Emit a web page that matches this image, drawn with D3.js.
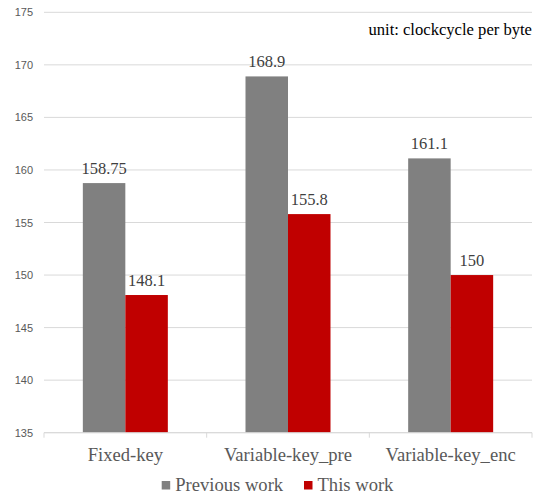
<!DOCTYPE html>
<html><head><meta charset="utf-8">
<script src="https://cdn.jsdelivr.net/npm/d3@7"></script>
<style>body{margin:0;background:#fff}svg{display:block}</style>
</head><body><svg id="c" width="542" height="497"></svg>
<script>
const categories = ["Fixed-key", "Variable-key_pre", "Variable-key_enc"];
const seriesNames = ["Previous work", "This work"];
const previousWork = [158.75, 168.9, 161.1];
const thisWork = [148.1, 155.8, 150];
const yTicks = [135, 140, 145, 150, 155, 160, 165, 170, 175];
const colors = ["#808080", "#C00000"];

(function () {
const svg = d3.select("#c");
const font = "'Liberation Serif', 'Times New Roman', serif";
const sans = "'Liberation Sans', Arial, sans-serif";
const pLeft = 44, pRight = 532, pTop = 12.3, pBottom = 432.7;
const y = d3.scaleLinear().domain([135, 175]).range([pBottom, pTop]);
const x = d3.scaleBand().domain(categories).range([pLeft, pRight]);
const inner = d3.scaleBand().domain(seriesNames).range([0, 85]);

// gridlines
svg.append("g").selectAll("line").data(yTicks).join("line")
  .attr("x1", pLeft).attr("x2", pRight)
  .attr("y1", d => y(d)).attr("y2", d => y(d))
  .attr("stroke", "#d9d9d9").attr("stroke-width", 1);

// y tick labels
svg.append("g").selectAll("text").data(yTicks).join("text")
  .attr("x", 33).attr("y", d => y(d) + 4)
  .attr("text-anchor", "end").attr("font-family", sans).attr("font-size", 11)
  .attr("fill", "#595959").text(d => d);

const data = categories.map((c, i) => ({c, vals: [previousWork[i], thisWork[i]]}));
const groups = svg.append("g").selectAll("g").data(data).join("g")
  .attr("transform", d => `translate(${x(d.c) + x.bandwidth() / 2 - 42.5},0)`);
groups.selectAll("rect").data(d => d.vals.map((v, j) => ({v, s: seriesNames[j], j}))).join("rect")
  .attr("x", d => inner(d.s)).attr("width", inner.bandwidth())
  .attr("y", d => y(d.v)).attr("height", d => y(135) - y(d.v))
  .attr("fill", d => colors[d.j]);
groups.selectAll("text").data(d => d.vals.map((v, j) => ({v, s: seriesNames[j], j}))).join("text")
  .attr("x", d => inner(d.s) + inner.bandwidth() / 2).attr("y", d => y(d.v) - 9)
  .attr("text-anchor", "middle").attr("font-family", font).attr("font-size", 16.5)
  .attr("fill", "#404040").text(d => d.v);

// x axis
svg.append("line").attr("x1", pLeft).attr("x2", pRight).attr("y1", pBottom).attr("y2", pBottom)
  .attr("stroke", "#d9d9d9");
const bounds = [pLeft, ...categories.map(c => x(c) + x.bandwidth())];
svg.append("g").selectAll("line").data(bounds).join("line")
  .attr("x1", d => d).attr("x2", d => d).attr("y1", pBottom).attr("y2", pBottom + 5)
  .attr("stroke", "#d9d9d9");
svg.append("g").selectAll("text").data(categories).join("text")
  .attr("x", d => x(d) + x.bandwidth() / 2).attr("y", 460.7)
  .attr("text-anchor", "middle").attr("font-family", font).attr("font-size", 18.6)
  .attr("fill", "#595959").text(d => d);

// unit
svg.append("text").attr("x", 532).attr("y", 35).attr("text-anchor", "end")
  .attr("font-family", font).attr("font-size", 16.6).attr("fill", "#000")
  .text("unit: clockcycle per byte");

// legend
const legX = [161.7, 304];
const leg = svg.append("g").selectAll("g").data(seriesNames).join("g")
  .attr("transform", (d, i) => `translate(${legX[i]},0)`);
leg.append("rect").attr("x", 0).attr("y", 481).attr("width", 8.5).attr("height", 8.5)
  .attr("fill", (d, i) => colors[i]);
leg.append("text").attr("x", 13.5).attr("y", 491).attr("font-family", font)
  .attr("font-size", 18.6).attr("fill", "#595959").text(d => d);
})();
</script></body></html>
